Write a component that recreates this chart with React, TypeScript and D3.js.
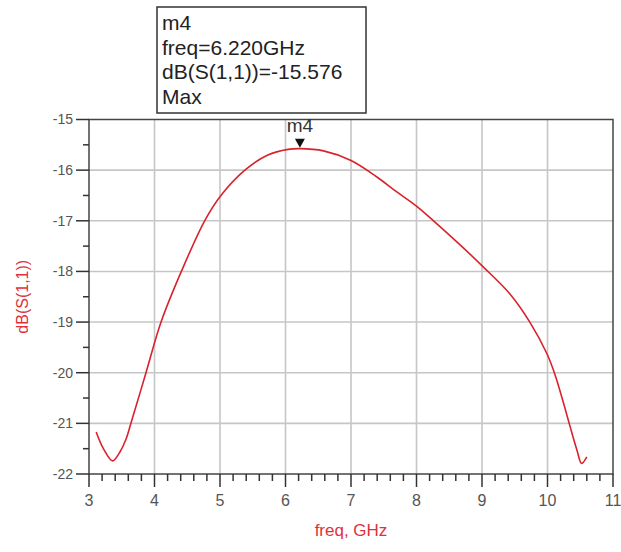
import React from "react";
import * as d3 from "d3";

// S11 sweep
const freqGHz = [3.11, 3.22, 3.36, 3.47, 3.56, 3.64, 3.87, 4.1, 4.41, 4.77, 5.02, 5.38, 5.73, 6.04, 6.22, 6.58, 7.0, 7.39, 7.7, 7.99, 8.26, 8.67, 9.01, 9.43, 9.73, 9.99, 10.11, 10.24, 10.34, 10.45, 10.52, 10.6];
const s11dB = [-21.17, -21.5, -21.74, -21.57, -21.33, -21.0, -20.0, -19.0, -18.0, -16.99, -16.49, -16.0, -15.7, -15.59, -15.576, -15.62, -15.81, -16.13, -16.43, -16.7, -17.0, -17.48, -17.9, -18.45, -19.0, -19.62, -20.02, -20.58, -21.04, -21.53, -21.79, -21.66];

const xTickLabels = [3, 4, 5, 6, 7, 8, 9, 10, 11];
const yTickLabels = [-22, -21, -20, -19, -18, -17, -16, -15];

const markerName = "m4";
const markerFreq = 6.22;
const markerDb = -15.576;
const markerLines = [markerName, "freq=6.220GHz", "dB(S(1,1))=-15.576", "Max"];

const RED = "#e0303c";
const FONT = "'Liberation Sans', Arial, sans-serif";

export default function App() {
  const x = d3.scaleLinear().domain([3, 11]).range([89, 613]);
  const y = d3.scaleLinear().domain([-22, -15]).range([474, 119.5]);

  const pts: [number, number][] = freqGHz.map((f, i) => [f, s11dB[i]]);
  const line = d3
    .line<[number, number]>()
    .x((d) => x(d[0]))
    .y((d) => y(d[1]))
    .curve(d3.curveCatmullRom.alpha(0.5));

  const xMinor = d3.range(3, 11.001, 0.2).filter((v) => Math.abs(v - Math.round(v)) > 0.01);
  const yMinor = d3.range(-22, -15, 1).map((v) => v + 0.5);

  const [x0, x1] = x.range();
  const [y0, y1] = y.range();
  const mx = x(markerFreq);
  const my = y(markerDb);

  return (
    <svg
      width={621}
      height={552}
      style={{ position: "absolute", left: 0, top: 0, background: "#fff" }}
      fontFamily={FONT}
    >
      {/* grid */}
      {xTickLabels.slice(1, -1).map((t) => (
        <line key={"gx" + t} x1={x(t)} x2={x(t)} y1={y1} y2={y0} stroke="#c6c6c6" strokeWidth={1.6} />
      ))}
      {yTickLabels.slice(1, -1).map((t) => (
        <line key={"gy" + t} x1={x0} x2={x1} y1={y(t)} y2={y(t)} stroke="#c6c6c6" strokeWidth={1.6} />
      ))}

      {/* frame */}
      <rect x={x0} y={y1} width={x1 - x0} height={y0 - y1} fill="none" stroke="#444" strokeWidth={1.5} />

      {/* x ticks */}
      {xTickLabels.map((t) => (
        <g key={"xt" + t}>
          <line x1={x(t)} x2={x(t)} y1={y0} y2={y0 + 13} stroke="#333" strokeWidth={1.5} />
          <text x={x(t)} y={y0 + 32} textAnchor="middle" fontSize={16} fill="#555">
            {t}
          </text>
        </g>
      ))}
      {xMinor.map((t) => (
        <line key={"xm" + t} x1={x(t)} x2={x(t)} y1={y0} y2={y0 + 7} stroke="#333" strokeWidth={1.5} />
      ))}

      {/* y ticks */}
      {yTickLabels.map((t) => (
        <g key={"yt" + t}>
          <line x1={x0 - 13} x2={x0} y1={y(t)} y2={y(t)} stroke="#333" strokeWidth={1.5} />
          <text x={x0 - 16} y={y(t)} dy="0.35em" textAnchor="end" fontSize={14} fill="#555">
            {t}
          </text>
        </g>
      ))}
      {yMinor.map((t) => (
        <line key={"ym" + t} x1={x0 - 6} x2={x0} y1={y(t)} y2={y(t)} stroke="#333" strokeWidth={1.5} />
      ))}

      {/* trace */}
      <path d={line(pts) || ""} fill="none" stroke="#d8222c" strokeWidth={1.6} />

      {/* marker */}
      <path d={`M${mx - 5},${my - 10} L${mx + 5},${my - 10} L${mx},${my - 1} Z`} fill="#111" />
      <text x={mx} y={my - 17} textAnchor="middle" fontSize={19} fill="#333">
        {markerName}
      </text>

      {/* marker readout box */}
      <rect x={157} y={7} width={209} height={106} fill="#fff" stroke="#333" strokeWidth={1.5} />
      {markerLines.map((s, i) => (
        <text key={"ml" + i} x={162} y={30 + i * 24.5} fontSize={21} fill="#222">
          {s}
        </text>
      ))}

      {/* axis titles */}
      <text
        transform={`translate(28,${(y0 + y1) / 2}) rotate(-90)`}
        textAnchor="middle"
        fontSize={16}
        fill={RED}
      >
        dB(S(1,1))
      </text>
      <text x={(x0 + x1) / 2} y={536} textAnchor="middle" fontSize={17} fill={RED}>
        freq, GHz
      </text>
    </svg>
  );
}
